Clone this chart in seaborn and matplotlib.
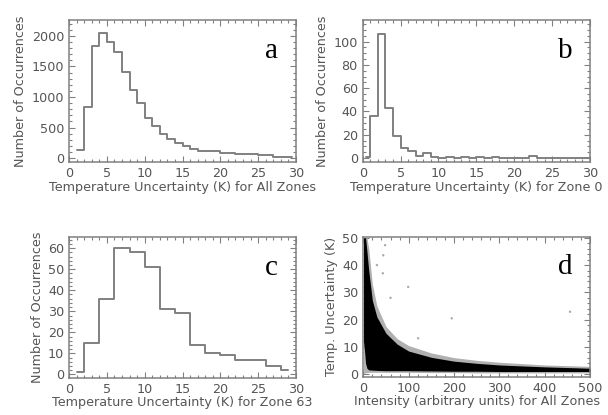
import numpy as np
import pandas as pd
import matplotlib
matplotlib.use("Agg")
import matplotlib.pyplot as plt
from matplotlib.ticker import MultipleLocator
import seaborn as sns

# ---------------- data ----------------
# Panel a: all zones, bin edges and counts
a_edges = list(range(1, 30)) + [29.5]
a_counts = [130, 830, 1840, 2055, 1900, 1735, 1410, 1115, 900, 655, 520, 392, 310,
            240, 190, 145, 110, 110, 110, 85, 85, 60, 60, 60, 45, 45, 25, 25, 25]

# Panel b: zone 0
b_edges = [0.5] + list(range(1, 31))
b_counts = [1, 36, 107, 43, 19, 9, 6, 2, 4, 1, 0, 1, 0, 1, 0, 1, 0, 1, 0, 0, 0, 0,
            2, 0, 0, 0, 0, 0, 0, 0]

# Panel c: zone 63
c_edges = [1, 2, 4, 6, 8, 10, 12, 14, 16, 18, 20, 22, 24, 26, 28, 29]
c_counts = [1, 15, 36, 60, 58, 51, 31, 29, 14, 10, 9, 7, 7, 4, 2]

# Panel d: intensity vs temperature uncertainty (dense cloud envelopes + strays)
d_x = [0.5, 3, 5, 8, 12, 20, 30, 50, 75, 100, 150, 200, 250, 300, 400, 500]
d_core_hi = [50, 50, 50, 45, 38, 27, 21, 15, 11, 8.5, 6.2, 4.8, 4.0, 3.4, 2.7, 2.2]
d_core_lo = [12, 8, 4, 2.2, 1.6, 1.5, 1.4, 1.3, 1.3, 1.3, 1.2, 1.1, 1.1, 1.0, 1.0, 1.0]
d_halo_hi = [50, 50, 50, 50, 46, 33, 25, 17.5, 13, 10.5, 7.8, 6.1, 5.1, 4.4, 3.4, 2.9]
d_halo_lo = [0.3, 0.4, 0.5, 0.6, 0.7, 0.7, 0.7, 0.7, 0.7, 0.7, 0.6, 0.6, 0.5, 0.5, 0.5, 0.5]
d_stray_x = [48, 44, 43, 99, 195, 121, 456, 30, 60]
d_stray_y = [47.3, 43.6, 37.0, 32.0, 20.5, 13.2, 22.9, 40.0, 28.0]

x_label_all = "Temperature Uncertainty (K) for All Zones"
x_label_z0 = "Temperature Uncertainty (K) for Zone 0"
x_label_z63 = "Temperature Uncertainty (K) for Zone 63"
x_label_d = "Intensity (arbitrary units) for All Zones"
y_label_hist = "Number of Occurrences"
y_label_d = "Temp. Uncertainty (K)"

# ---------------- style ----------------
sns.set_style("white")
plt.rcParams["font.family"] = ["DejaVu Sans"]
GRAY = "#808080"
TXT = "#555555"
FS = 9.2

W, H = 608, 415
fig = plt.figure(figsize=(W / 100, H / 100), dpi=100)


def rect(l, t, r, b):
    return [l / W, 1 - b / H, (r - l) / W, (b - t) / H]


ax_a = fig.add_axes(rect(69, 20, 296, 162))
ax_b = fig.add_axes(rect(362.7, 20, 590, 162))
ax_c = fig.add_axes(rect(69, 236.7, 296, 377.7))
ax_d = fig.add_axes(rect(363.3, 236.7, 590, 376.7))


def style(ax, xlim, ylim, xmaj, xmin, ymaj, ymin, xlabel, ylabel, letter):
    ax.set_xlim(*xlim)
    ax.set_ylim(*ylim)
    ax.xaxis.set_major_locator(MultipleLocator(xmaj))
    ax.xaxis.set_minor_locator(MultipleLocator(xmin))
    ax.yaxis.set_major_locator(MultipleLocator(ymaj))
    ax.yaxis.set_minor_locator(MultipleLocator(ymin))
    for s in ax.spines.values():
        s.set_visible(True)
        s.set_color(GRAY)
        s.set_linewidth(1.1)
    ax.tick_params(which="both", direction="in", top=True, right=True,
                   bottom=True, left=True,
                   color=GRAY, width=0.8, labelcolor=TXT, labelsize=FS)
    ax.tick_params(which="major", length=4, pad=3.5)
    ax.tick_params(which="minor", length=2)
    ax.set_xlabel(xlabel, color=TXT, fontsize=FS, labelpad=0.5)
    ax.set_ylabel(ylabel, color=TXT, fontsize=FS, labelpad=3)
    ax.text(0.89, 0.78, letter, transform=ax.transAxes, ha="center", va="center",
            fontsize=21, family="Liberation Serif", color="black")


def hist(ax, edges, counts):
    e = np.asarray(edges, dtype=float)
    centers = (e[:-1] + e[1:]) / 2
    df = pd.DataFrame({"x": centers, "w": counts})
    sns.histplot(data=df, x="x", weights="w", bins=list(e), element="step",
                 fill=False, color=GRAY, linewidth=1.4, ax=ax)


hist(ax_a, a_edges, a_counts)
style(ax_a, (0, 30), (-65, 2262), 5, 1, 500, 100, x_label_all, y_label_hist, "a")

hist(ax_b, b_edges, b_counts)
style(ax_b, (0, 30), (-3.4, 118.6), 5, 1, 20, 5, x_label_z0, y_label_hist, "b")

hist(ax_c, c_edges, c_counts)
style(ax_c, (0, 30), (-1.6, 65.5), 5, 1, 10, 2, x_label_z63, y_label_hist, "c")

# Panel d
ax_d.fill_between(d_x, d_halo_lo, d_halo_hi, color="#b0b0b0", linewidth=0)
ax_d.fill_between(d_x, d_core_lo, d_core_hi, color="#000000", linewidth=0)
sns.scatterplot(x=d_stray_x, y=d_stray_y, ax=ax_d, s=3, color="#aaaaaa",
                edgecolor="none")
style(ax_d, (0, 500), (-0.9, 50.4), 100, 20, 10, 2, x_label_d, y_label_d, "d")

fig.savefig("out.png", dpi=100)
